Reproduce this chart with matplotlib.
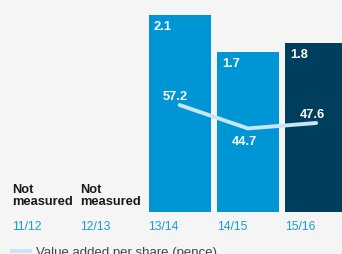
import matplotlib
matplotlib.use('Agg')
import matplotlib.pyplot as plt
from matplotlib.lines import Line2D

# data
years = ['11/12', '12/13', '13/14', '14/15', '15/16']
bar_values = [None, None, 2.1, 1.7, 1.8]
line_values = [None, None, 57.2, 44.7, 47.6]
line_offsets = [None, None, 9, -13, 9]  # label above/below point (px)

bg = '#f5f5f5'
blue = '#0096d6'
navy = '#003e5e'
light = '#c8e6f5'
tick_blue = '#1a9bdb'

plt.rcParams['font.family'] = ['Liberation Sans', 'DejaVu Sans']

fig = plt.figure(figsize=(3.42, 2.55), dpi=100, facecolor=bg)
W, H = 342, 255
ax = fig.add_axes([0, (H - 213) / H, 1, 213 / H])
ax.set_facecolor(bg)
slot = 68.3
ax.set_xlim(-12 / slot, (W - 12) / slot)
ax.set_ylim(0, 213 / 94)
bw = 62 / slot

for i, v in enumerate(bar_values):
    if v is None:
        ax.text(i, 0.05, 'Not\nmeasured', fontsize=9.3, fontweight='bold',
                color='#1a1a1a', ha='left', va='bottom', linespacing=1.0)
        continue
    col = navy if i == len(bar_values) - 1 else blue
    ax.bar(i, v, width=bw, align='edge', color=col, linewidth=0)
    ax.annotate(f'{v}', (i, v), xytext=(5, -5), textcoords='offset pixels',
                fontsize=9.3, fontweight='bold', color='white', ha='left', va='top')

for i, y in enumerate(years):
    ax.annotate(y, (i, 0), xytext=(0, -8), textcoords='offset pixels',
                fontsize=8.8, color=tick_blue, ha='left', va='top')

ax.axis('off')

ax2 = ax.twinx()
ax2.set_ylim(0, 213 / 1.87)
ax2.axis('off')
xs = [i + bw / 2 for i, v in enumerate(line_values) if v is not None]
ys = [v for v in line_values if v is not None]
offs = [o for o in line_offsets if o is not None]
ax2.plot(xs, ys, color=light, linewidth=2.8, solid_capstyle='round')
for x, y, o in zip(xs, ys, offs):
    ax2.annotate(f'{y}', (x, y), xytext=(-4, o), textcoords='offset pixels',
                 fontsize=9.3, fontweight='bold', color='white', ha='center', va='center')

handle = Line2D([], [], color=light, linewidth=2.8)
fig.legend([handle], ['Value added per share (pence)'], loc='center left',
           bbox_to_anchor=(12 / W, 1 - 253 / H), frameon=False, fontsize=9.5,
           handlelength=1.4, handletextpad=0.4, borderpad=0, borderaxespad=0,
           labelcolor='#444444')

fig.savefig('out.png', dpi=100, facecolor=bg)
